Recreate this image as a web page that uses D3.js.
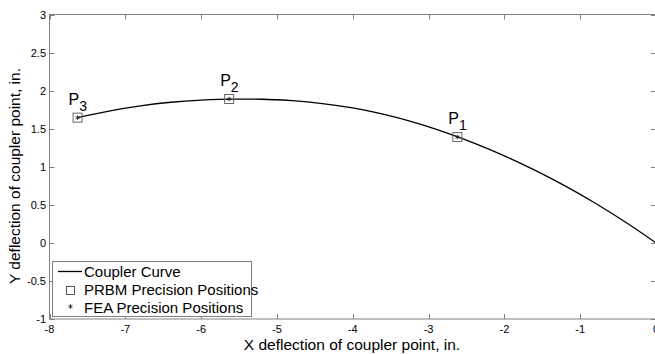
<!DOCTYPE html>
<html><head><meta charset="utf-8">
<script src="https://cdn.jsdelivr.net/npm/d3@7"></script>
<style>body{margin:0;background:#fff}svg{display:block;font-family:"Liberation Sans",Arial,sans-serif}</style>
</head><body>
<svg id="c" width="655" height="354"></svg>
<script>
// Coupler curve samples
const curveX = [-7.63, -7.2, -6.8, -6.4, -6.0, -5.6, -5.2, -4.8, -4.4, -4.0, -3.6, -3.2, -2.8, -2.4, -2.0, -1.6, -1.2, -0.8, -0.4, 0];
const curveY = [1.645, 1.735, 1.80, 1.847, 1.875, 1.888, 1.887, 1.868, 1.83, 1.772, 1.69, 1.585, 1.457, 1.31, 1.143, 0.955, 0.748, 0.52, 0.27, 0];
// Precision positions
const pointNames = ["1", "2", "3"];
const pointX = [-2.62, -5.63, -7.63];
const pointY = [1.39, 1.89, 1.645];
// Axis ticks
const xTicks = [-8, -7, -6, -5, -4, -3, -2, -1, 0];
const yTicks = [-1, -0.5, 0, 0.5, 1, 1.5, 2, 2.5, 3];
const yTickLabels = ["-1", "-0.5", "0", "0.5", "1", "1.5", "2", "2.5", "3"];
const legendLabels = ["Coupler Curve", "PRBM Precision Positions", "FEA Precision Positions"];

const svg = d3.select("#c");
const L = 49.5, R = 656, T = 14.5, B = 319;
const x = d3.scaleLinear().domain([-8, 0]).range([L, R]);
const y = d3.scaleLinear().domain([-1, 3]).range([B, T]);
const axisCol = "#808080";

// Box
svg.append("rect").attr("x", L).attr("y", T).attr("width", R - L).attr("height", B - T)
  .attr("fill", "none").attr("stroke", axisCol).attr("stroke-width", 1);

// Ticks (inward, all four sides)
const tl = 5;
xTicks.forEach(v => {
  const px = Math.round(x(v)) + 0.5;
  svg.append("line").attr("x1", px).attr("x2", px).attr("y1", B).attr("y2", B - tl).attr("stroke", axisCol);
  svg.append("line").attr("x1", px).attr("x2", px).attr("y1", T).attr("y2", T + tl).attr("stroke", axisCol);
  svg.append("text").attr("x", x(v)).attr("y", 333).attr("text-anchor", "middle")
    .attr("font-size", 11).attr("fill", "#000").text(v === 0 ? "0" : String(v));
});
yTicks.forEach((v, i) => {
  const py = Math.round(y(v)) + 0.5;
  svg.append("line").attr("x1", L).attr("x2", L + tl).attr("y1", py).attr("y2", py).attr("stroke", axisCol);
  svg.append("line").attr("x1", R).attr("x2", R - tl).attr("y1", py).attr("y2", py).attr("stroke", axisCol);
  svg.append("text").attr("x", 46).attr("y", y(v) + 4).attr("text-anchor", "end")
    .attr("font-size", 11).attr("fill", "#000").text(yTickLabels[i]);
});

// Axis labels
svg.append("text").attr("x", 352).attr("y", 350).attr("text-anchor", "middle")
  .attr("font-size", 15.5).text("X deflection of coupler point, in.");
svg.append("text").attr("transform", "translate(20,176) rotate(-90)")
  .attr("text-anchor", "middle").attr("font-size", 15.5).text("Y deflection of coupler point, in.");

// Curve
const pts = curveX.map((v, i) => [v, curveY[i]]);
const line = d3.line().x(d => x(d[0])).y(d => y(d[1])).curve(d3.curveMonotoneX);
svg.append("path").attr("d", line(pts)).attr("fill", "none").attr("stroke", "#000").attr("stroke-width", 1.3);

// Markers
const star = d3.symbol().type(d3.symbolAsterisk).size(14);
pointX.forEach((v, i) => {
  const px = x(v), py = y(pointY[i]);
  svg.append("rect").attr("x", px - 4.5).attr("y", py - 4.5).attr("width", 9).attr("height", 9)
    .attr("fill", "none").attr("stroke", "#666").attr("stroke-width", 1);
  svg.append("path").attr("d", star()).attr("transform", `translate(${px},${py})`)
    .attr("stroke", "#222").attr("stroke-width", 0.9).attr("fill", "none");
  const t = svg.append("text").attr("x", px - 9).attr("y", py - 13).attr("font-size", 16).attr("fill", "#000");
  t.append("tspan").text("P");
  t.append("tspan").attr("dy", 6).attr("font-size", 14).text(pointNames[i]);
});

// Legend
const lg = svg.append("g");
lg.append("rect").attr("x", 52.5).attr("y", 261.5).attr("width", 199).attr("height", 55)
  .attr("fill", "#fff").attr("stroke", axisCol).attr("stroke-width", 1);
lg.append("line").attr("x1", 58).attr("x2", 82).attr("y1", 271.5).attr("y2", 271.5).attr("stroke", "#000").attr("stroke-width", 1.3);
lg.append("rect").attr("x", 66.5).attr("y", 286.5).attr("width", 8).attr("height", 8)
  .attr("fill", "none").attr("stroke", "#555");
lg.append("path").attr("d", star()).attr("transform", "translate(70.5,306.5)")
  .attr("stroke", "#222").attr("stroke-width", 0.9).attr("fill", "none");
legendLabels.forEach((s, i) => {
  lg.append("text").attr("x", 84).attr("y", 276.5 + i * 18).attr("font-size", 15).text(s);
});
</script>
</body></html>
